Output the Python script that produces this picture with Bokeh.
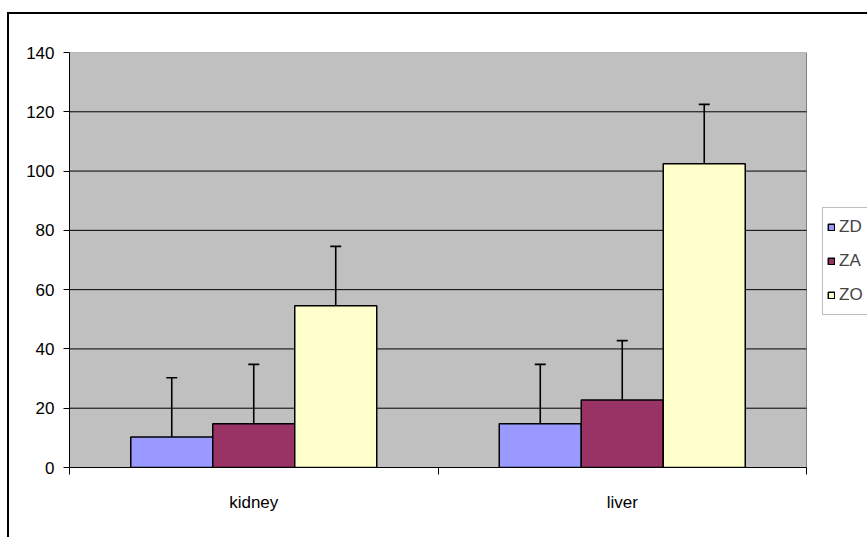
from bokeh.plotting import figure
from bokeh.models import (ColumnDataSource, Range1d, FixedTicker, Whisker, TeeHead,
                          Legend, LegendItem)
from bokeh.embed import file_html
from bokeh.resources import INLINE

categories = ["kidney", "liver"]
series = ["ZD", "ZA", "ZO"]
zd = [10.3, 14.8]
za = [14.8, 22.8]
zo = [54.6, 102.5]
errors_zd = [20, 20]
errors_za = [20, 20]
errors_zo = [20, 20]
colors = ["#9999FF", "#993366", "#FFFFCC"]
y_ticks = [0, 20, 40, 60, 80, 100, 120, 140]

FONT = "Liberation Sans"
FS = "17px"

n = len(categories)
# plot area spans x in [0, n]; the frame continues to the right to hold the legend
x_end = n * 798 / 737

p = figure(width=867, height=537, output_backend="svg", toolbar_location=None,
           x_range=Range1d(0, x_end), y_range=Range1d(y_ticks[0], y_ticks[-1]),
           min_border_left=69, min_border_right=0, min_border_top=52, min_border_bottom=70)
p.background_fill_color = "white"
p.border_fill_color = "white"
p.border_fill_alpha = 0
p.outline_line_color = None
# outer chart-area frame (left and top edges visible in the window)
p.styles = {
    "background": "linear-gradient(#000, #000) 7px 12px / 2px 600px no-repeat, "
                  "linear-gradient(#000, #000) 7px 12px / 900px 2px no-repeat, white"
}
p.xgrid.grid_line_color = None
p.ygrid.grid_line_color = None

# plot area (gray) and horizontal gridlines
p.quad(left=0, right=n, bottom=y_ticks[0], top=y_ticks[-1],
       fill_color="#C0C0C0", line_color="#808080", line_width=1)
inner = y_ticks[1:-1]
p.segment(x0=[0] * len(inner), x1=[n] * len(inner), y0=inner, y1=inner,
          line_color="black", line_width=1)

# y axis
p.yaxis.ticker = FixedTicker(ticks=y_ticks)
p.yaxis.axis_line_color = "black"
p.yaxis.major_tick_line_color = "black"
p.yaxis.major_tick_out = 6
p.yaxis.major_tick_in = 0
p.yaxis.minor_tick_line_color = None
p.yaxis.major_label_text_font = FONT
p.yaxis.major_label_text_font_size = FS
p.yaxis.major_label_text_color = "black"
p.yaxis.major_label_standoff = 9

# x axis: labels at category centres, ticks at boundaries
centers = [i + 0.5 for i in range(n)]
bounds = list(range(n + 1))
p.xaxis.bounds = (0, n)
p.xaxis.ticker = FixedTicker(ticks=centers, minor_ticks=bounds)
p.xaxis.major_label_overrides = {c: name for c, name in zip(centers, categories)}
p.xaxis.major_tick_line_color = None
p.xaxis.minor_tick_line_color = "black"
p.xaxis.minor_tick_out = 7
p.xaxis.minor_tick_in = 0
p.xaxis.axis_line_color = "black"
p.xaxis.major_label_text_font = FONT
p.xaxis.major_label_text_font_size = FS
p.xaxis.major_label_text_color = "black"
p.xaxis.major_label_standoff = 18

bw = 0.2225
offsets = [-bw, 0.0, bw]
vals = [zd, za, zo]
errs = [errors_zd, errors_za, errors_zo]
items = []
for s, v, e, off, col in zip(series, vals, errs, offsets, colors):
    x = [c + off for c in centers]
    src = ColumnDataSource(dict(x=x, top=v, up=[a + b for a, b in zip(v, e)]))
    r = p.vbar(x="x", top="top", bottom=0, width=bw, source=src, fill_color=col,
               line_color="black", line_width=1.5)
    w = Whisker(source=src, base="x", lower="top", upper="up", dimension="height",
                line_color="black", line_width=1.6, lower_head=None,
                upper_head=TeeHead(size=11, line_color="black", line_width=1.6),
                level="annotation")
    p.add_layout(w)
    items.append(LegendItem(label=s, renderers=[r]))

legend = Legend(items=items, location=(753, 152), orientation="vertical")
legend.label_text_font = FONT
legend.label_text_font_size = FS
legend.glyph_width = 8
legend.glyph_height = 8
legend.label_height = 30
legend.label_standoff = 4
legend.spacing = 4
legend.padding = 4
legend.margin = 0
legend.border_line_color = "#808080"
legend.border_line_width = 1
legend.background_fill_color = "white"
legend.background_fill_alpha = 1
p.add_layout(legend, "center")

open("out.html", "w").write(file_html(p, INLINE))
